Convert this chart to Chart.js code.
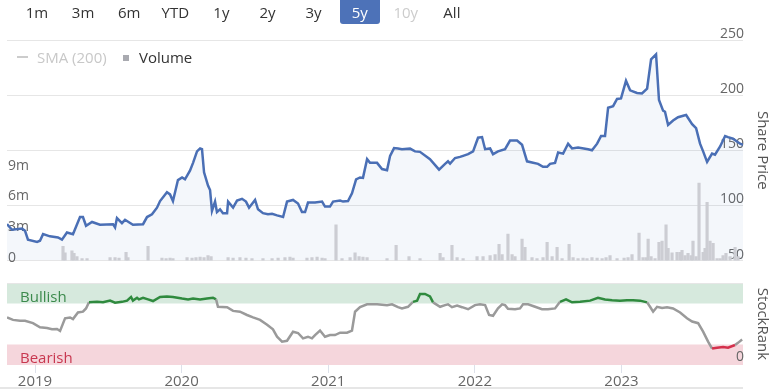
<!DOCTYPE html>
<html><head><meta charset="utf-8">
<script src="https://cdn.jsdelivr.net/npm/chart.js@4.4.0/dist/chart.umd.min.js"></script>
<style>
html,body{margin:0;padding:0;background:#fff;}
body{width:774px;height:391px;position:relative;overflow:hidden;font-family:"Open Sans",sans-serif;}
#wTop{position:absolute;left:0;top:0;width:774px;height:270px;}
#wBot{position:absolute;left:0;top:270px;width:774px;height:121px;}
.btn{position:absolute;top:0;width:40px;height:24px;line-height:24px;text-align:center;font-size:15px;color:#333;}
.btn.sel{background:#4d72b8;color:#fff;border-radius:0 0 3px 3px;}
.btn.dis{color:#cccccc;}
.lg{position:absolute;font-size:15px;line-height:20px;top:47px;white-space:nowrap;}
.band{position:absolute;left:20px;font-size:15px;line-height:20px;}
#nav{position:absolute;left:0;top:387px;width:743px;height:2px;background:#e6e6e6;}
</style>
</head><body>
<div id="wTop"><canvas id="cTop"></canvas></div>
<div id="wBot"><canvas id="cBot"></canvas></div>
<div id="buttons"></div>
<div style="position:absolute;left:17px;top:56px;width:11px;height:1.5px;background:#cccccc;"></div>
<div class="lg" style="left:37px;color:#c8c8c8;">SMA (200)</div>
<div style="position:absolute;left:123px;top:55px;width:6px;height:6px;background:#a9aab0;"></div>
<div class="lg" style="left:139px;color:#333;">Volume</div>
<div class="band" style="top:286px;color:#3b8a4c;">Bullish</div>
<div class="band" style="top:347px;color:#c8374f;">Bearish</div>
<div id="nav"></div>
<script>
// ---- data ----
const rangeButtons = ['1m','3m','6m','YTD','1y','2y','3y','5y','10y','All'];
const selectedRange = '5y';
const disabledRange = '10y';
const yearTicks = [2019, 2020, 2021, 2022, 2023];
const priceTicks = [50, 100, 150, 200, 250];
const volumeTicks = [0, 3, 6, 9];
const rankTicks = [0, 100];

const priceT = [2018.809,2018.843,2018.911,2018.932,2018.952,2019.014,2019.034,2019.055,2019.102,2019.157,2019.184,2019.218,2019.259,2019.307,2019.327,2019.348,2019.389,2019.443,2019.532,2019.546,2019.559,2019.593,2019.614,2019.668,2019.737,2019.764,2019.798,2019.832,2019.853,2019.900,2019.921,2019.941,2019.975,2020.003,2020.023,2020.057,2020.078,2020.105,2020.126,2020.139,2020.153,2020.180,2020.194,2020.207,2020.228,2020.241,2020.262,2020.282,2020.310,2020.317,2020.351,2020.378,2020.412,2020.439,2020.460,2020.501,2020.521,2020.555,2020.589,2020.617,2020.651,2020.692,2020.719,2020.760,2020.794,2020.821,2020.842,2020.862,2020.910,2020.958,2020.978,2021.012,2021.033,2021.081,2021.101,2021.135,2021.162,2021.190,2021.217,2021.237,2021.265,2021.285,2021.333,2021.367,2021.401,2021.422,2021.449,2021.476,2021.503,2021.558,2021.592,2021.626,2021.694,2021.756,2021.797,2021.817,2021.831,2021.865,2021.899,2021.920,2021.954,2021.988,2022.022,2022.049,2022.070,2022.104,2022.124,2022.158,2022.206,2022.240,2022.288,2022.322,2022.356,2022.390,2022.431,2022.465,2022.493,2022.513,2022.547,2022.568,2022.602,2022.636,2022.663,2022.704,2022.772,2022.799,2022.834,2022.861,2022.888,2022.909,2022.943,2022.970,2022.997,2023.031,2023.059,2023.106,2023.140,2023.175,2023.202,2023.236,2023.256,2023.284,2023.297,2023.318,2023.352,2023.386,2023.427,2023.441,2023.482,2023.509,2023.536,2023.557,2023.584,2023.618,2023.638,2023.673,2023.707,2023.727,2023.761,2023.809,2023.829];
const price = [83,78,79,77,69,67,68,74,72,71,69,75.5,74,89.5,89.5,81.6,85,82.5,83,80,88.6,84,87,82.5,83,89.5,92,98,104,112,110,104,123,125.4,123.7,131.6,138.6,149,151.7,151,130,118,114,95,103.5,94,96.5,93,93,103.5,98,104.4,106,103.5,98,105,96.5,93,92,92.5,91,89.5,103.5,105,101.7,94,94,102.6,102.6,103.5,99,99,103.5,104.4,103.5,104,111,123.7,125.4,125,142,138.6,138.6,133,132,145,152,151.7,151,151.5,149,148.6,142,132.5,137.7,140,138,143,144,145,146.5,149,161.4,162,151,151.7,146.5,149,151,158.8,158.8,155,140,139,137.7,135,135,137.7,138.6,148,147,156,151.7,152.6,151,150,156,163,163,188.6,190,196.5,197,213,204.4,202,201.5,206,232.5,237,195.6,186,185,173,177,180,181.6,182,173.7,170,156,149,139.5,147,146,153.5,163,162,160.5,156,155];

const volT = [2019.191,2019.205,2019.252,2019.266,2019.286,2019.321,2019.355,2019.512,2019.546,2019.573,2019.621,2019.634,2019.771,2019.866,2019.894,2019.921,2019.941,2020.037,2020.071,2020.098,2020.126,2020.153,2020.180,2020.201,2020.317,2020.351,2020.398,2020.439,2020.480,2020.555,2020.617,2020.658,2020.705,2020.739,2020.760,2020.855,2020.889,2020.924,2020.958,2020.978,2021.053,2021.094,2021.149,2021.183,2021.210,2021.237,2021.265,2021.401,2021.463,2021.551,2021.626,2021.763,2021.783,2021.844,2021.879,2021.920,2022.015,2022.056,2022.104,2022.138,2022.165,2022.186,2022.226,2022.254,2022.274,2022.322,2022.342,2022.390,2022.424,2022.465,2022.493,2022.527,2022.561,2022.595,2022.643,2022.670,2022.704,2022.738,2022.765,2022.799,2022.834,2022.868,2022.895,2022.922,2022.970,2023.018,2023.045,2023.072,2023.120,2023.147,2023.168,2023.182,2023.202,2023.229,2023.256,2023.277,2023.304,2023.318,2023.345,2023.379,2023.400,2023.413,2023.434,2023.454,2023.475,2023.488,2023.509,2023.529,2023.557,2023.570,2023.584,2023.604,2023.625,2023.652,2023.673,2023.693,2023.713,2023.741,2023.775,2023.795];
const volume = [1.4,0.75,0.95,0.7,0.4,0.2,0.2,0.3,0.3,0.25,0.8,0.3,1.4,0.25,0.2,0.25,0.2,0.3,0.25,0.3,0.35,0.3,0.5,0.4,0.3,0.25,0.3,0.25,0.2,0.2,0.2,0.25,0.3,0.35,0.25,0.25,0.3,0.35,0.25,0.2,3.5,0.2,0.3,0.75,0.4,0.35,0.3,0.2,1.5,0.4,0.2,0.7,0.3,1.5,0.3,0.2,0.4,0.4,0.5,0.6,1.6,0.6,2.6,0.6,0.4,2.1,1.3,0.3,0.2,0.3,1.8,0.4,1.3,0.2,1.6,0.3,0.2,0.25,0.2,0.3,0.25,0.2,0.3,0.5,0.2,0.25,0.3,0.6,2.7,0.3,0.3,2.1,0.4,0.2,1.8,1.9,3.5,1.2,0.75,0.8,0.8,1.0,0.5,0.7,0.5,1.9,0.4,7.6,0.8,1.2,5.7,1.9,1.7,0.2,0.2,0.5,0.7,0.4,1.3,0.4];

const rankT = [2018.809,2018.850,2018.898,2018.932,2018.986,2019.034,2019.082,2019.116,2019.150,2019.171,2019.205,2019.239,2019.259,2019.293,2019.327,2019.348,2019.368,2019.423,2019.464,2019.512,2019.546,2019.593,2019.628,2019.655,2019.668,2019.696,2019.709,2019.737,2019.771,2019.805,2019.853,2019.900,2019.941,2020.003,2020.044,2020.078,2020.126,2020.173,2020.214,2020.235,2020.248,2020.310,2020.351,2020.398,2020.446,2020.487,2020.535,2020.583,2020.623,2020.651,2020.685,2020.719,2020.760,2020.794,2020.828,2020.862,2020.889,2020.910,2020.944,2020.978,2021.012,2021.046,2021.081,2021.128,2021.162,2021.183,2021.217,2021.265,2021.333,2021.401,2021.435,2021.476,2021.503,2021.544,2021.578,2021.606,2021.626,2021.660,2021.694,2021.715,2021.763,2021.797,2021.817,2021.844,2021.879,2021.913,2021.954,2022.001,2022.035,2022.070,2022.097,2022.124,2022.158,2022.186,2022.206,2022.226,2022.274,2022.308,2022.329,2022.363,2022.411,2022.458,2022.499,2022.547,2022.581,2022.622,2022.663,2022.718,2022.786,2022.840,2022.888,2022.936,2022.990,2023.038,2023.079,2023.127,2023.175,2023.195,2023.216,2023.243,2023.277,2023.311,2023.352,2023.400,2023.447,2023.482,2023.523,2023.557,2023.591,2023.618,2023.652,2023.693,2023.727,2023.775,2023.795,2023.823];
const rank = [58,55,54,54,51,46,45,43.5,44,41.5,57,58,56,64,65,69,76.5,77,76.5,78.5,76,77,78.5,83,78.5,82,80,82,80,78,83,83.5,83,81,80,81,80,81,82,80,71,70.5,66,65,61,58,55,49,43.5,34.5,28.5,29.5,40.6,39,32.5,34.5,32.5,36.5,42,34.5,36.5,36.5,39.4,39.4,42,65,70.5,74,74,73,74,70.5,69,71,77,78.5,86.6,86.6,83.7,76.4,71,73,74,70.5,72.4,70.5,68,73,74,73,61,60,69,74,73,68.5,68,69,74,74,71,68,68,69,77,80,76.4,77,78.5,82,80,79,78.5,79,79,78.5,76.4,71,65,71,69.5,70.5,69,64,57,53,51,40.6,28.5,20,21,22,21,24.4,27,31];

const bullishFrom = 75, bearishTo = 25;
const xMin = 2018.809, xMax = 2023.829;

// ---- buttons ----
const bc = document.getElementById('buttons');
rangeButtons.forEach((b, i) => {
  const d = document.createElement('div');
  d.className = 'btn' + (b === selectedRange ? ' sel' : '') + (b === disabledRange ? ' dis' : '');
  d.style.left = (17 + i * 46.1) + 'px';
  d.textContent = b;
  bc.appendChild(d);
});

Chart.defaults.font.family = '"Open Sans", sans-serif';
Chart.defaults.color = '#666';

const yearTickHook = s => { s.ticks = yearTicks.map(v => ({value: v})); };

new Chart(document.getElementById('cTop'), {
  data: {
    datasets: [
      {type: 'line', label: 'Share Price', data: priceT.map((t, i) => ({x: t, y: price[i]})), yAxisID: 'yP',
       borderColor: '#4a6fb5', borderWidth: 2.5, pointRadius: 0, fill: 'start',
       backgroundColor: 'rgba(76,114,184,0.06)', tension: 0, order: 0},
      {type: 'bar', label: 'Volume', data: volT.map((t, i) => ({x: t, y: volume[i]})), yAxisID: 'yV',
       backgroundColor: '#cccdd3', barThickness: 2.5, order: 1}
    ]
  },
  options: {
    responsive: true, maintainAspectRatio: false, animation: false,
    layout: {padding: {top: 40, bottom: 2, left: 0, right: 0}},
    plugins: {legend: {display: false}, tooltip: {enabled: false}, filler: {drawTime: 'beforeDatasetsDraw'}},
    scales: {
      x: {type: 'linear', min: xMin, max: xMax, display: false, offset: false},
      yP: {type: 'linear', position: 'right', min: 50, max: 250,
        afterBuildTicks: s => { s.ticks = priceTicks.map(v => ({value: v})); },
        ticks: {mirror: true, padding: 1, labelOffset: -6, color: '#666', font: {size: 14}},
        grid: {color: '#e6e6e6', drawTicks: false}, border: {display: false},
        title: {display: true, text: 'Share Price', color: '#555', font: {size: 15}, padding: {top: 3, bottom: 0}},
        afterFit: s => { s.width = 31; }},
      yV: {type: 'linear', position: 'left', min: 0, max: 21.6,
        afterBuildTicks: s => { s.ticks = volumeTicks.map(v => ({value: v})); },
        ticks: {mirror: true, padding: 1, labelOffset: -3, color: '#666', font: {size: 14},
          callback: v => v === 0 ? '0' : v + 'm'},
        grid: {display: false, drawTicks: false}, border: {display: false},
        afterFit: s => { s.width = 7; }}
    }
  }
});

const bands = {
  id: 'bands',
  beforeDraw(chart) {
    const {ctx, chartArea: a, scales: {y}} = chart;
    ctx.save();
    ctx.fillStyle = '#d6e9dd';
    const t = y.getPixelForValue(100) + 1, m = y.getPixelForValue(bullishFrom);
    ctx.fillRect(a.left, t, a.right - a.left, m - t);
    ctx.fillStyle = '#f5d6dc';
    const b1 = y.getPixelForValue(bearishTo), b2 = y.getPixelForValue(0);
    ctx.fillRect(a.left, b1, a.right - a.left, b2 - b1);
    ctx.restore();
  }
};

new Chart(document.getElementById('cBot'), {
  type: 'line',
  data: {
    datasets: [{label: 'StockRank', data: rankT.map((t, i) => ({x: t, y: rank[i]})),
      borderColor: '#999', borderWidth: 2.5, pointRadius: 0, tension: 0,
      segment: {borderColor: c => {
        const a = c.p0.parsed.y, b = c.p1.parsed.y;
        if (a >= bullishFrom && b >= bullishFrom) return '#2f8a3e';
        if (a <= bearishTo && b <= bearishTo) return '#d4304c';
        return '#9a9a9a';
      }}}]
  },
  options: {
    responsive: true, maintainAspectRatio: false, animation: false,
    layout: {padding: {top: 13, bottom: 0, left: 7, right: 0}},
    plugins: {legend: {display: false}, tooltip: {enabled: false}},
    scales: {
      x: {type: 'linear', min: xMin, max: xMax, offset: false,
        afterBuildTicks: yearTickHook,
        ticks: {callback: v => String(v), color: '#666', font: {size: 15}, padding: 0, maxRotation: 0},
        grid: {drawOnChartArea: false, tickLength: 8, color: '#dde1ea'}, border: {display: false},
        afterFit: s => { s.height = 26; }},
      y: {type: 'linear', position: 'right', min: 0, max: 100,
        afterBuildTicks: s => { s.ticks = rankTicks.map(v => ({value: v})); },
        ticks: {mirror: true, padding: 1, labelOffset: -8, color: '#666', font: {size: 14},
          callback: v => v === 0 ? '0' : ''},
        grid: {drawTicks: false, color: c => c.tick && c.tick.value === 100 ? '#e6e6e6' : 'rgba(0,0,0,0)'},
        border: {display: false},
        title: {display: true, text: 'StockRank', color: '#555', font: {size: 15}, padding: {top: 3, bottom: 0}},
        afterFit: s => { s.width = 31; }}
    }
  },
  plugins: [bands]
});
</script>
</body></html>
